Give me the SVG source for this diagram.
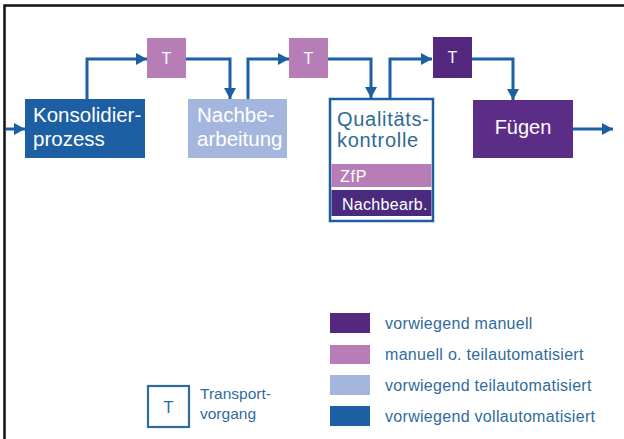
<svg xmlns="http://www.w3.org/2000/svg" width="624" height="439" viewBox="0 0 624 439">
<defs>
<marker id="ah" markerUnits="userSpaceOnUse" markerWidth="12" markerHeight="12" refX="11" refY="6" orient="auto">
<path d="M0,0 L11,6 L0,12 z" fill="#1d5fa3"/>
</marker>
</defs>
<style>
.lbl{font-family:"Liberation Sans",Arial,sans-serif;}
.w{fill:#ffffff;}
.node-t{font-size:16px;text-anchor:middle;fill:#ffffff;}
.con{fill:none;stroke:#1d5fa3;stroke-width:3;marker-end:url(#ah);}
.leg{font-size:16px;letter-spacing:0.3px;fill:#2f6b9e;}
</style>
<rect x="0" y="0" width="624" height="439" fill="#ffffff"/>
<path d="M4.5,439 L4.5,5.5 L624,5.5" fill="none" stroke="#111111" stroke-width="2.5"/>

<g id="connectors">
<path class="con" d="M6,129 L25,129"/>
<path class="con" d="M87,99 L87,59 L147,59"/>
<path class="con" d="M186,59 L230,59 L230,99"/>
<path class="con" d="M248,99 L248,59 L289,59"/>
<path class="con" d="M328,59 L371,59 L371,98"/>
<path class="con" d="M390,98 L390,59 L432,59"/>
<path class="con" d="M472,59 L513,59 L513,100"/>
<path class="con" d="M573,129 L613,129"/>
</g>

<g id="konsolidier">
<rect x="25" y="99" width="120" height="59" fill="#1d5fa3"/>
<text class="lbl w" x="33" y="122" font-size="20.5">Konsolidier-</text>
<text class="lbl w" x="33" y="146" font-size="20.5">prozess</text>
</g>

<g id="t1">
<rect x="147" y="38" width="39" height="40" fill="#b77db6"/>
<text class="lbl node-t" x="166.5" y="64">T</text>
</g>

<g id="nachbearbeitung">
<rect x="188" y="99" width="99" height="59" fill="#a4b6dd"/>
<text class="lbl w" x="197" y="122" font-size="20.5">Nachbe-</text>
<text class="lbl w" x="197" y="146" font-size="20.5">arbeitung</text>
</g>

<g id="t2">
<rect x="289" y="38" width="39" height="40" fill="#b77db6"/>
<text class="lbl node-t" x="308.5" y="64">T</text>
</g>

<g id="qualitaetskontrolle">
<rect x="330" y="99" width="103" height="122" fill="#ffffff" stroke="#1d5fa3" stroke-width="2.5"/>
<text class="lbl" x="337" y="126" font-size="20" letter-spacing="0.7" fill="#2e6b92">Qualitäts-</text>
<text class="lbl" x="337" y="147" font-size="20" letter-spacing="0.7" fill="#2e6b92">kontrolle</text>
<rect x="331.5" y="164" width="100" height="23" fill="#b77db6"/>
<text class="lbl w" x="340" y="182" font-size="16" letter-spacing="0.8">ZfP</text>
<rect x="331.5" y="190" width="100" height="26" fill="#4a2a7c"/>
<text class="lbl w" x="342" y="210" font-size="16" letter-spacing="0.3">Nachbearb.</text>
</g>

<g id="t3">
<rect x="433" y="37" width="39" height="41" fill="#55287f"/>
<text class="lbl node-t" x="452.5" y="63">T</text>
</g>

<g id="fuegen">
<rect x="473" y="100" width="100" height="58" fill="#5c2d86"/>
<text class="lbl w" x="523" y="134" font-size="20" text-anchor="middle">Fügen</text>
</g>

<g id="legend">
<rect x="148" y="386" width="41" height="41" fill="#ffffff" stroke="#2f6b9e" stroke-width="2.2"/>
<text class="lbl" x="168.5" y="413" font-size="17" text-anchor="middle" fill="#2f6b9e">T</text>
<text class="lbl" x="200" y="399" font-size="15.5" fill="#2f6b9e">Transport-</text>
<text class="lbl" x="200" y="419" font-size="15.5" fill="#2f6b9e">vorgang</text>
<rect x="330" y="313" width="40" height="20" fill="#55287f"/>
<rect x="330" y="345" width="40" height="19" fill="#b77db6"/>
<rect x="330" y="375" width="40" height="20" fill="#a4b6dd"/>
<rect x="330" y="406" width="40" height="20" fill="#1d5fa3"/>
<text class="lbl leg" x="385" y="329">vorwiegend manuell</text>
<text class="lbl leg" x="385" y="360">manuell o. teilautomatisiert</text>
<text class="lbl leg" x="385" y="391">vorwiegend teilautomatisiert</text>
<text class="lbl leg" x="385" y="422">vorwiegend vollautomatisiert</text>
</g>
</svg>
